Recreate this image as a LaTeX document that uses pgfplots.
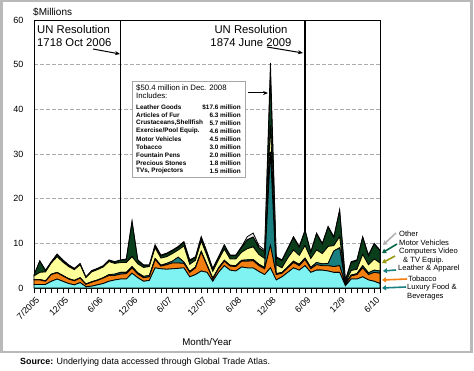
\documentclass[border=0pt]{standalone}
\usepackage{fontspec}
\setmainfont{Liberation Sans}
\usepackage{pgfplots}
\pgfplotsset{compat=1.18}
\usepackage{pgfplotstable}
\usetikzlibrary{arrows.meta}
\definecolor{cLux}{HTML}{7FF2F2}
\definecolor{cTob}{HTML}{F27F0F}
\definecolor{cLea}{HTML}{1A7F80}
\definecolor{cCom}{HTML}{FFFF99}
\definecolor{cMot}{HTML}{0B3F1C}
\definecolor{cOth}{HTML}{EDEDED}
\definecolor{cOli}{HTML}{9A9A10}
\pgfplotstableread{
i C T L Y M O
0 0.8 1.0 0.1 0.8 0.2 0.0
1 0.8 1.0 0.1 1.6 2.5 0.1
2 0.8 0.7 0.1 2.0 0.3 0.1
3 1.5 1.5 0.1 2.5 0.2 0.1
4 2.0 1.4 0.1 3.5 0.5 0.1
5 1.5 1.2 0.1 3.0 0.4 0.1
6 1.0 1.0 0.1 2.7 0.3 0.1
7 0.7 0.9 0.1 2.4 0.2 0.1
8 1.2 1.0 0.1 2.9 0.2 0.1
9 0.3 0.5 0.1 1.4 0.1 0.1
10 0.4 0.9 0.1 2.2 0.2 0.1
11 0.7 1.0 0.1 2.3 0.2 0.1
12 1.0 1.2 0.1 2.4 0.2 0.1
13 1.5 1.3 0.2 2.9 0.3 0.1
14 1.8 1.0 0.3 2.4 0.3 0.1
15 2.0 1.1 0.4 2.2 0.5 0.1
16 2.0 1.2 0.3 2.2 0.6 0.2
17 3.3 1.2 0.3 2.2 7.8 0.2
18 2.3 0.8 0.3 2.0 0.7 0.2
19 1.5 0.8 0.3 2.0 0.4 0.2
20 1.7 0.8 0.3 2.0 0.2 0.2
21 4.5 1.9 0.2 2.4 0.5 0.2
22 4.3 0.6 0.2 1.6 0.5 0.2
23 4.2 1.0 0.3 1.5 0.6 0.2
24 4.3 1.3 0.4 1.7 0.6 0.2
25 4.4 1.2 1.3 1.6 0.6 0.2
26 4.5 1.0 0.3 3.6 0.8 0.2
27 2.5 1.0 0.2 1.6 0.8 0.2
28 3.0 1.5 0.2 1.5 0.6 0.2
29 3.8 4.2 0.2 2.3 0.8 0.2
30 3.5 1.5 0.2 2.0 0.7 0.2
31 1.5 0.5 0.2 1.5 0.5 0.2
32 3.5 0.8 0.2 1.8 0.5 0.2
33 5.0 1.0 0.2 2.5 0.8 0.2
34 4.0 0.9 0.2 1.4 0.7 0.2
35 3.8 1.0 0.2 1.5 0.7 0.2
36 4.7 1.3 0.2 1.8 1.0 0.3
37 4.5 1.5 0.3 2.5 2.0 0.7
38 4.5 1.6 0.3 2.8 2.2 0.9
39 3.7 1.3 0.3 2.2 1.5 0.5
40 3.0 1.3 0.3 2.0 1.5 0.4
41 4.5 5.0 21.0 6.0 11.0 2.9
42 1.8 1.2 0.2 2.0 1.6 0.2
43 2.5 0.8 0.2 1.0 1.6 0.2
44 3.5 1.0 0.2 2.0 2.0 0.2
45 4.5 1.2 0.3 2.5 2.8 0.2
46 4.0 1.0 0.3 2.0 1.8 0.2
47 5.0 1.4 0.3 2.8 3.3 0.2
48 3.5 0.8 0.3 2.0 1.3 0.2
49 4.0 1.2 0.5 2.8 3.6 0.2
50 4.0 1.0 0.4 2.3 2.1 0.2
51 3.8 1.2 0.5 3.8 4.3 0.2
52 3.5 1.3 3.5 1.2 1.8 0.2
53 3.5 1.5 4.0 2.5 5.8 0.2
54 0.5 0.3 0.1 0.3 0.4 0.2
55 2.0 0.7 0.2 1.0 1.8 0.2
56 2.0 1.0 0.2 1.0 1.9 0.2
57 2.5 2.0 0.5 2.5 3.8 0.2
58 1.8 1.2 0.4 1.8 2.0 0.2
59 1.5 2.0 0.5 2.5 3.3 0.2
60 1.0 2.3 0.5 1.8 2.7 0.2
}\data
\begin{document}
\begin{tikzpicture}[x=1pt,y=1pt]
\path[use as bounding box] (0,0) rectangle (474,370);
\draw[gray!55, line width=2.5pt] (1.25,18) rectangle (471.5,368.75);
\begin{axis}[
  at={(34pt,82pt)}, anchor=south west,
  scale only axis, width=346pt, height=268pt,
  xmin=0, xmax=60, ymin=0, ymax=60,
  stack plots=y,
  axis line style={line width=0.8pt},
  ytick={0,10,...,60},
  ytick style={draw=none},
  ymajorgrids, grid style={gray!65, dash pattern=on 3.5pt off 2.5pt, line width=0.6pt},
  xtick={0,5,11,17,23,29,35,41,47,53,59},
  xticklabels={7/2005,12/05,6/06,12/06,6/07,12/07,6/08,12/08,6/09,12/9,6/10},
  minor xtick={0,1,...,60},
  tick align=outside, major tick length=5pt, minor tick length=5pt,
  x tick style={black, line width=0.5pt},
  xtick pos=bottom,
  /pgf/number format/assume math mode=true,
  tick label style={font=\fontsize{9}{10}\selectfont},
  x tick label style={rotate=45, anchor=north east, yshift=-2pt, inner sep=1pt},
  y tick label style={xshift=-2pt},
  clip=false,
]
\addplot[fill=cLux, draw=black, line width=0.8pt] table[x=i, y=C] {\data} \closedcycle;
\addplot[fill=cTob, draw=black, line width=0.8pt] table[x=i, y=T] {\data} \closedcycle;
\addplot[fill=cLea, draw=black, line width=0.8pt] table[x=i, y=L] {\data} \closedcycle;
\addplot[fill=cCom, draw=black, line width=0.8pt] table[x=i, y=Y] {\data} \closedcycle;
\addplot[fill=cMot, draw=black, line width=0.8pt] table[x=i, y=M] {\data} \closedcycle;
\addplot[fill=cOth, draw=black, line width=0.8pt] table[x=i, y=O] {\data} \closedcycle;
\draw[black, line width=1.1pt] (axis cs:15,0) -- (axis cs:15,60);
\draw[black, line width=1.1pt] (axis cs:47,0) -- (axis cs:47,60);
\end{axis}
% y unit label
\node[anchor=west, inner sep=0pt, font=\fontsize{10}{12}\selectfont] at (33,358) {\$Millions};
% UN resolutions
\node[anchor=north west, align=left, inner sep=0pt, font=\fontsize{11.3}{13}\selectfont] at (37,345) {UN Resolution\\1718 Oct 2006};
\draw[-{Stealth[length=5pt,width=4pt]}, line width=1pt] (93,321) -- (120,316);
\node[anchor=north, align=center, inner sep=0pt, font=\fontsize{11.3}{13}\selectfont] at (251,345) {UN Resolution\\1874 June 2009};
\draw[-{Stealth[length=5pt,width=4pt]}, line width=1pt] (267,323) -- (303,317);
% info box
\draw[gray!70, fill=white, line width=0.8pt] (132,289) rectangle (245,193);
\node[anchor=west, inner sep=0pt, font=\fontsize{7.8}{9}\selectfont] at (136,282) {\$50.4 million in Dec. 2008};
\node[anchor=west, inner sep=0pt, font=\fontsize{7.8}{9}\selectfont] at (136,274) {Includes:};
\begin{scope}[every node/.style={inner sep=0pt, font=\bfseries\fontsize{6.4}{7.5}\selectfont}]
\node[anchor=west] at (136,263) {Leather Goods};
\node[anchor=east] at (241,263) {\$17.6 million};
\node[anchor=west] at (136,255) {Articles of Fur};
\node[anchor=east] at (241,255) {6.3 million};
\node[anchor=west] at (136,247) {Crustaceans,Shellfish};
\node[anchor=east] at (241,247) {5.7 million};
\node[anchor=west] at (136,239) {Exercise/Pool Equip.};
\node[anchor=east] at (241,239) {4.6 million};
\node[anchor=west] at (136,231) {Motor Vehicles};
\node[anchor=east] at (241,231) {4.5 million};
\node[anchor=west] at (136,223) {Tobacco};
\node[anchor=east] at (241,223) {3.0 million};
\node[anchor=west] at (136,215) {Fountain Pens};
\node[anchor=east] at (241,215) {2.0 million};
\node[anchor=west] at (136,207) {Precious Stones};
\node[anchor=east] at (241,207) {1.8 million};
\node[anchor=west] at (136,199) {TVs, Projectors};
\node[anchor=east] at (241,199) {1.5 million};
\end{scope}
\draw[-{Stealth[length=5pt,width=4pt]}, line width=1pt] (248,277) -- (268,277);
% right-side labels
\begin{scope}[every node/.style={anchor=west, inner sep=0pt, font=\fontsize{7.6}{9}\selectfont}]
\node at (399,136) {Other};
\node at (399,127) {Motor Vehicles};
\node at (399,118) {Computers Video};
\node at (403,109) {\& TV Equip.};
\node at (398,101) {Leather \& Apparel};
\node at (408,91) {Tobacco};
\node at (407,82) {Luxury Food \&};
\node at (407,73) {Beverages};
\end{scope}
\begin{scope}[line width=1.6pt, arrows={-{Triangle[length=4pt,width=5pt]}}]
\draw[gray!60] (396,137) -- (383,125);
\draw[cMot!80!cyan] (397,126) -- (382,117);
\draw[cOli] (395,114) -- (382,107);
\draw[cLea] (396,100) -- (383,99);
\draw[cTob] (407,91) -- (382,90);
\draw[cLea] (406,83) -- (382,82);
\end{scope}
% x axis title
\node[inner sep=0pt, font=\fontsize{9.7}{11}\selectfont] at (207,28) {Month/Year};
% source
\node[anchor=west, inner sep=0pt, font=\fontsize{8.9}{10}\selectfont] at (20,8) {\textbf{Source:} Underlying data accessed through Global Trade Atlas.};
\end{tikzpicture}
\end{document}
